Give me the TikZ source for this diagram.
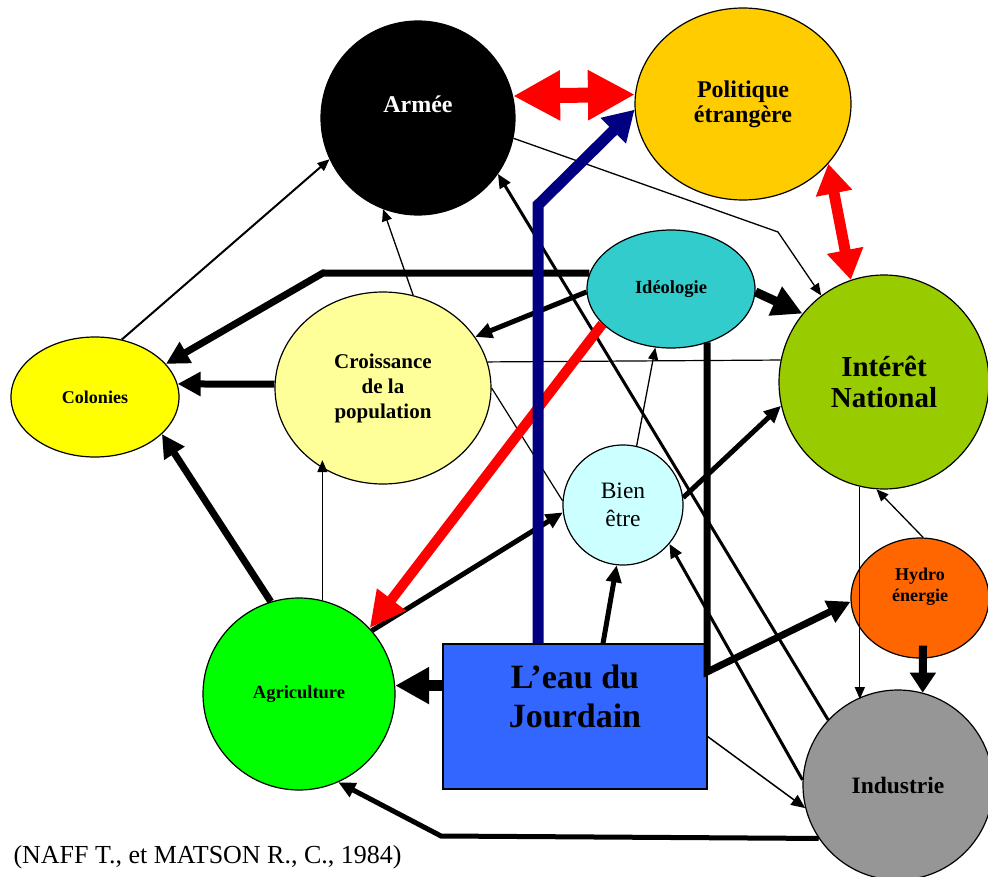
\documentclass[tikz,border=0pt]{standalone}
\usepackage{fontspec}
\setmainfont{Liberation Serif}
\usetikzlibrary{arrows.meta,shapes.geometric}

\definecolor{polcol}{HTML}{FFCC00}
\definecolor{ideocol}{HTML}{33CCCC}
\definecolor{intcol}{HTML}{99CC00}
\definecolor{croicol}{HTML}{FFFF99}
\definecolor{colcol}{HTML}{FFFF00}
\definecolor{biencol}{HTML}{CCFFFF}
\definecolor{hydcol}{HTML}{FF6600}
\definecolor{indcol}{HTML}{969696}
\definecolor{agrcol}{HTML}{00FF00}
\definecolor{eaucol}{HTML}{3366FF}
\definecolor{navy}{HTML}{000080}

\begin{document}
\begin{tikzpicture}[x=1pt,y=-1pt]

\tikzset{vertex/.style = {shape=ellipse,draw,line width=1.2pt,inner sep=0pt,align=center}}
\tikzset{edge/.style = {-{Triangle[length=12pt,width=10pt]},line width=1.3pt}}
\tikzset{midedge/.style = {-{Triangle[length=14pt,width=12pt]},line width=3pt}}
\tikzset{boldedge/.style = {-{Triangle[length=17pt,width=15pt]},line width=5pt}}
\tikzset{heavyedge/.style = {-{Triangle[length=23pt,width=23pt]},line width=7pt}}
\tikzset{hugeedge/.style = {-{Triangle[length=30pt,width=30pt]},line width=9pt}}
\tikzset{plainline/.style = {line width=1.2pt}}

\useasboundingbox (0,0) rectangle (988,877);

% vertices
\node[vertex,fill=black,minimum width=194pt,minimum height=194pt] (armee) at (418,118) {};
\node[text=white,font=\bfseries\fontsize{24}{26}\selectfont] (armeetxt) at (418,104) {Armée};
\node[vertex,fill=polcol,minimum width=216pt,minimum height=192pt,font=\bfseries\fontsize{24}{25}\selectfont] (polit) at (743,104) {Politique\\étrangère};
\node[vertex,fill=ideocol,minimum width=168pt,minimum height=118pt,font=\bfseries\fontsize{18.5}{20}\selectfont] (ideo) at (671,289) {Idéologie};
\node[vertex,fill=intcol,minimum width=210pt,minimum height=214pt,font=\bfseries\fontsize{29}{31}\selectfont] (inter) at (884,382) {Intérêt\\National};
\node[vertex,fill=croicol,minimum width=216pt,minimum height=192pt,font=\bfseries\fontsize{21}{25}\selectfont] (crois) at (383,388) {Croissance\\de la\\population};
\node[vertex,fill=colcol,minimum width=168pt,minimum height=120pt,font=\bfseries\fontsize{18}{20}\selectfont] (colon) at (95,397) {Colonies};
\node[vertex,fill=biencol,minimum width=120pt,minimum height=120pt,font=\fontsize{23.5}{28}\selectfont] (bien) at (623,505) {Bien\\être};
\node[vertex,fill=hydcol,minimum width=138pt,minimum height=120pt] (hydro) at (920,598) {};
\node[align=center,font=\bfseries\fontsize{18}{21}\selectfont] (hydrotxt) at (920,587) {Hydro\\énergie};
\node[vertex,fill=indcol,minimum width=190pt,minimum height=190pt,font=\bfseries\fontsize{23.5}{26}\selectfont] (indus) at (898,785) {Industrie};
\node[vertex,fill=agrcol,minimum width=192pt,minimum height=192pt,font=\bfseries\fontsize{18.5}{20}\selectfont] (agri) at (299,694) {Agriculture};
\node[draw,line width=1.2pt,fill=eaucol,minimum width=264pt,minimum height=145pt] (eau) at (575,716.5) {};
\node[align=center,font=\bfseries\fontsize{34}{39}\selectfont] (eautxt) at (575,696) {L’eau du\\Jourdain};
\node[anchor=base west,font=\fontsize{26}{28}\selectfont] (source) at (10,863) {(NAFF T., et MATSON R., C., 1984)};

\coordinate (armbend) at (778,232);
\coordinate (colbend) at (323,273);
\coordinate (hydbend) at (707,672);
\coordinate (agbend) at (441,836);
\coordinate (navybend) at (538,205);

%edges
\draw[red,line width=15pt,{Triangle[length=47pt,width=47pt]}-{Triangle[length=47pt,width=47pt]}] (armee.13) -- (polit.175);
\draw[red,line width=11pt,{Triangle[length=30pt,width=35pt]}-{Triangle[length=30pt,width=35pt]}] (polit.-35) -- (inter.108);
\draw[edge] (armee.-12) -- (armbend) -- (inter.126);
\draw[hugeedge] (ideo.-2) -- (inter.140);
\draw[heavyedge] (ideo.169) -- (colbend) -- (colon.25);
\draw[boldedge] (ideo.182) -- (crois.29);
\draw[heavyedge] (crois.178) -- (colon.9);
\draw[edge,line width=2pt] (colon.65) -- (armee.205);
\draw[edge] (crois.72) -- (armee.249);
\draw[plainline] (crois.14) -- (inter.168);
\draw[plainline] (crois.0) -- (bien.176);
\draw[edge] (bien.77) -- (ideo.255);
\draw[boldedge] (bien.7) -- (inter.193);
\draw[midedge] (indus.137) -- (armee.-35);
\draw[midedge] (indus.177) -- (bien.-40);
\draw[heavyedge] (ideo.-55 -| hydbend) -- (hydbend) -- (hydro.183);
\draw[heavyedge] (agri.107) -- (colon.-29);
\draw[edge] (agri.76) -- (crois.225 -| agri.76);
\draw[boldedge] (agri.41) -- (bien.187);
\draw[red,line width=10pt,-{Triangle[length=36pt,width=34pt]}] (ideo.207) -- (agri.43);
\draw[boldedge] ([xshift=28pt]eau.north) -- (bien.264);
\draw[-{Triangle[length=34pt,width=35pt]},line width=11pt] (agri.5 -| eau.west) -- (agri.5);
\draw[boldedge] (indus.214) -- (agbend) -- (agri.-66);
\draw[-{Triangle[length=20pt,width=25pt]},line width=8pt] ([shift={(3,-13)}]hydro.south) -- (indus.75);
\draw[edge] (hydro.87) -- (inter.266);
\draw[edge] (inter.257) -- (indus.116 -| inter.257);
\draw[midedge,line width=1.5pt] ([yshift=-20pt]eau.east) -- (indus.194);
\draw[navy,line width=11pt,-{Triangle[length=30pt,width=34pt]}] ([xshift=-37pt]eau.north) -- (navybend) -- (polit.183);
\end{tikzpicture}
\end{document}
